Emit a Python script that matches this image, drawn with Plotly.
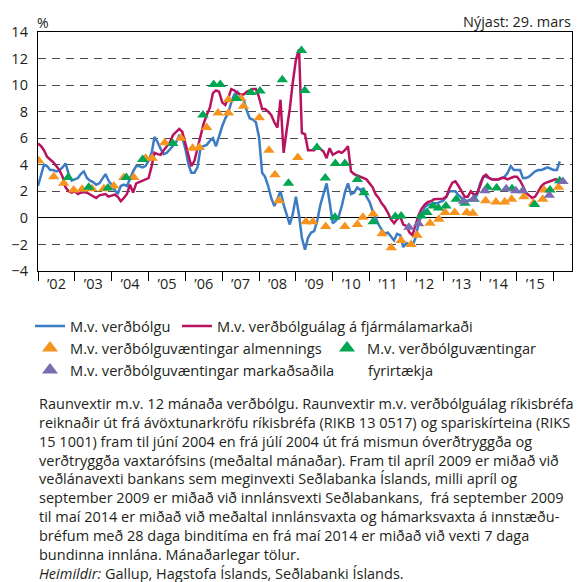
import pandas as pd
import plotly.graph_objects as go

# ---- data -------------------------------------------------------------
START_MONTH = "2002-01-01"

# Real rate based on 12-month inflation (monthly, Jan 2002 - Mar 2016)
real_rate_cpi = [
    2.4, 3.3, 4.0, 3.9, 3.6, 3.6, 3.5, 3.6, 3.8, 4.1, 3.3, 2.8,      # 2002
    2.9, 3.0, 3.3, 3.5, 3.0, 2.8, 2.7, 2.5, 2.6, 2.9, 3.3, 2.8,      # 2003
    2.5, 2.1, 1.8, 2.4, 2.5, 2.4, 3.0, 3.5, 3.9, 3.9, 3.8, 3.9,      # 2004
    4.3, 4.9, 6.1, 5.7, 5.2, 4.8, 4.9, 5.2, 5.5, 5.7, 6.2, 6.1,      # 2005
    5.2, 4.0, 3.4, 3.4, 3.8, 5.3, 5.4, 5.5, 5.8, 6.0, 5.4, 6.2,      # 2006
    6.9, 7.5, 7.9, 8.7, 9.3, 9.5, 9.2, 8.9, 8.1, 7.5, 7.4, 7.2,      # 2007
    6.1, 3.4, 3.1, 2.4, 1.5, 0.9, 1.4, 2.0, 1.0, 0.2, -0.5, 0.3,     # 2008
    1.6, 0.2, -1.5, -2.4, -1.5, -1.1, -1.0, -0.2, 1.0, 1.8, 2.6, 1.2,  # 2009
    -0.4, -0.2, 0.1, 0.9, 1.9, 2.6, 1.8, 1.9, 2.3, 2.1, 2.2, 1.6,    # 2010
    1.2, 0.5, 0.0, -0.5, -0.9, -1.2, -1.1, -1.4, -1.7, -1.2, -1.3, -2.2,  # 2011
    -1.9, -2.0, -2.1, -1.5, -0.4, 0.2, 0.8, 1.0, 1.0, 1.1, 1.1, 1.2,  # 2012
    1.3, 1.6, 2.0, 2.0, 2.0, 1.7, 1.5, 1.3, 1.3, 1.4, 1.5, 1.7,      # 2013
    2.6, 3.1, 3.1, 3.0, 2.9, 2.9, 2.9, 3.0, 3.1, 3.4, 3.9, 3.6,      # 2014
    3.6, 3.6, 3.0, 3.0, 3.1, 3.3, 3.5, 3.6, 3.6, 3.7, 3.8, 3.7,      # 2015
    3.6, 3.6, 4.25,                                                  # 2016
]

# Real rate based on market breakeven inflation (monthly, Jan 2002 - Feb 2016)
real_rate_breakeven = [
    5.6, 5.4, 5.1, 4.6, 4.4, 4.2, 3.9, 3.6, 3.1, 2.3, 2.0, 1.9,      # 2002
    2.0, 1.8, 1.9, 1.95, 1.9, 1.75, 1.6, 1.5, 1.7, 1.75, 1.8, 1.6,   # 2003
    1.65, 1.75, 1.6, 1.25, 1.5, 1.8, 2.5, 1.9, 2.6, 2.7, 2.8, 2.9,   # 2004
    3.0, 3.9, 4.9, 4.8, 4.75, 5.1, 5.4, 5.7, 6.25, 6.5, 6.7, 6.5,    # 2005
    5.6, 4.6, 3.9, 4.3, 5.2, 6.1, 7.1, 7.75, 8.3, 9.4, 9.6, 9.5,     # 2006
    8.7, 8.5, 9.0, 9.7, 9.6, 9.4, 9.3, 9.3, 9.5, 9.6, 9.7, 9.7,      # 2007
    9.1, 8.2, 8.2, 8.0, 7.75, 7.2, 6.8, 8.9, 4.9, 6.6, 8.2, 10.2,    # 2008
    11.9, 12.7, 6.4, 6.3, 5.1, 5.1, 5.1, 5.4, 5.2, 5.0, 4.5, 5.25,   # 2009
    4.75, 4.9, 5.0, 4.9, 5.1, 5.4, 3.5, 3.3, 3.2, 3.1, 3.0, 2.9,     # 2010
    2.6, 2.3, 1.8, 1.5, 1.1, 0.8, 0.4, -0.1, -0.4, -0.1, 0.1, -0.5,  # 2011
    -0.6, -1.1, -1.3, -0.6, 0.2, 0.7, 1.0, 1.2, 1.25, 1.4, 1.4, 1.4, # 2012
    1.45, 1.6, 2.2, 2.65, 2.75, 2.4, 2.0, 1.6, 1.6, 2.0, 1.75, 1.85, # 2013
    2.4, 3.1, 3.25, 3.0, 2.9, 2.9, 2.9, 3.0, 3.0, 2.9, 3.0, 3.1,     # 2014
    3.1, 2.8, 2.4, 1.9, 1.7, 1.5, 1.6, 2.0, 2.4, 2.6, 2.7, 2.8,      # 2015
    2.9, 2.95,                                                       # 2016
]

# Real rate based on households' inflation expectations (survey dates)
public_dates = [
    "2002-01-08", "2002-06-06", "2002-09-13", "2002-12-20", "2003-03-14",
    "2003-06-21", "2003-10-16", "2004-01-23", "2004-05-01", "2004-08-08",
    "2004-12-03", "2005-02-06", "2005-06-10", "2005-11-18", "2006-03-14",
    "2006-05-19", "2006-07-31", "2006-11-21", "2007-03-04", "2007-03-04",
    "2007-07-05", "2007-07-31", "2008-01-04", "2008-04-09", "2008-06-07",
    "2008-07-16", "2009-01-19", "2009-04-09", "2009-06-18", "2009-10-23",
    "2010-05-01", "2010-09-02", "2010-10-27", "2011-02-06", "2011-05-05",
    "2011-08-04", "2011-11-10", "2012-02-17", "2012-04-16", "2012-08-22",
    "2012-11-18", "2013-01-19", "2013-04-24", "2013-08-22", "2013-10-20",
    "2014-02-24", "2014-06-07", "2014-09-02", "2014-11-10", "2015-03-11",
    "2015-06-14", "2015-09-13", "2015-09-27", "2016-02-17",
]
public_values = [
    4.3, 3.1, 2.6, 2.1, 2.15,
    2.2, 2.2, 2.4, 3.05, 3.05,
    4.5, 4.5, 5.65, 6.0, 5.25,
    5.3, 6.8, 7.9, 7.9, 8.9,
    9.0, 8.4, 7.55, 5.1, 3.25,
    1.3, 4.55, -0.3, -0.3, -0.65,
    -0.65, -0.5, 0.05, 0.3, -1.2,
    -2.25, -1.7, -2.0, -1.3, -0.4,
    -0.1, 0.4, 0.4, 0.4, 0.35,
    1.3, 1.2, 1.2, 1.4, 1.6,
    1.1, 1.4, 2.1, 2.3,
]

# Real rate based on firms' inflation expectations
firms_dates = [
    "2002-10-27", "2003-05-19", "2003-11-25", "2004-05-26", "2004-11-03",
    "2005-08-29", "2006-06-24", "2006-10-09", "2006-12-13", "2007-05-22",
    "2007-10-12", "2008-01-11", "2008-08-19", "2008-10-19", "2009-02-25",
    "2009-03-30", "2009-07-28", "2009-10-19", "2010-01-23", "2010-01-27",
    "2010-05-01", "2010-09-02", "2010-11-07", "2011-02-06", "2011-09-13",
    "2011-11-10", "2012-05-27", "2012-07-24", "2012-09-21", "2012-11-14",
    "2013-01-27", "2013-05-09", "2013-08-04", "2013-11-03", "2014-03-15",
    "2014-06-14", "2014-11-14", "2015-06-25", "2015-11-25", "2016-02-28",
]
firms_values = [
    3.05, 2.3, 2.25, 3.05, 4.4,
    5.6, 7.75, 10.05, 10.05, 9.0,
    9.45, 9.55, 10.4, 2.6, 12.6,
    9.6, 5.3, 3.0, 0.05, 4.1,
    4.1, 2.9, 1.9, -0.3, 0.1,
    0.15, 0.15, 0.4, 0.9, 0.75,
    0.9, 1.4, 1.1, 1.4, 2.3,
    2.25, 2.2, 1.0, 2.1, 2.8,
]

# Real rate based on market participants' inflation expectations
market_dates = [
    "2012-01-26", "2012-05-01", "2013-07-19", "2013-10-27", "2014-02-17",
    "2014-09-17", "2014-12-20", "2015-02-28", "2015-11-18", "2016-04-01",
]
market_values = [
    -0.7, -0.45, 1.25, 1.4, 2.05,
    2.2, 2.05, 2.05, 1.7, 2.75,
]

Y_TICKS = [-4, -2, 0, 2, 4, 6, 8, 10, 12, 14]

NOTE_LINES = [
    "Raunvextir m.v. 12 mánaða verðbólgu. Raunvextir m.v. verðbólguálag ríkisbréfa",
    "reiknaðir út frá ávöxtunarkröfu ríkisbréfa (RIKB 13 0517) og spariskírteina (RIKS",
    "15 1001) fram til júní 2004 en frá júlí 2004 út frá mismun óverðtryggða og",
    "verðtryggða vaxtarófsins (meðaltal mánaðar). Fram til apríl 2009 er miðað við",
    "veðlánavexti bankans sem meginvexti Seðlabanka Íslands, milli apríl og",
    "september 2009 er miðað við innlánsvexti Seðlabankans,  frá september 2009",
    "til maí 2014 er miðað við meðaltal innlánsvaxta og hámarksvaxta á innstæðu-",
    "bréfum með 28 daga binditíma en frá maí 2014 er miðað við vexti 7 daga",
    "bundinna innlána. Mánaðarlegar tölur.",
]
SOURCE_LINE = "<i>Heimildir:</i> Gallup, Hagstofa Íslands, Seðlabanki Íslands."

# ---- styling ----------------------------------------------------------
FONT = "Open Sans"
TEXT = "#231f20"
BLUE = "#3b7cc4"
RED = "#b9135f"
ORANGE = "#f7941d"
GREEN = "#00a651"
PURPLE = "#7b6cb1"

W, H = 581, 582
M_L, M_R, M_T, M_B = 38, 9, 32, 311
PW, PH = W - M_L - M_R, H - M_T - M_B
LEG_FONT = 14.6
NOTE_FONT = 14.5


def px_x(px):
    return (px - M_L) / PW


def px_y(py):
    return (H - M_B - py) / PH


months_cpi = pd.date_range(START_MONTH, periods=len(real_rate_cpi), freq="MS")
months_be = pd.date_range(START_MONTH, periods=len(real_rate_breakeven), freq="MS")

fig = go.Figure()

fig.add_trace(go.Scatter(
    x=months_cpi, y=real_rate_cpi, mode="lines", name="M.v. verðbólgu",
    line=dict(color=BLUE, width=2.5), legend="legend",
))
fig.add_trace(go.Scatter(
    x=months_be, y=real_rate_breakeven, mode="lines",
    name="M.v. verðbólguálag á fjármálamarkaði",
    line=dict(color=RED, width=2.5), legend="legend2",
))

marker_sets = [
    (public_dates, public_values, ORANGE, "M.v. verðbólguvæntingar almennings", "legend3"),
    (firms_dates, firms_values, GREEN, "M.v. verðbólguvæntingar", "legend4"),
    (market_dates, market_values, PURPLE, "M.v. verðbólguvæntingar markaðsaðila", "legend5"),
]
for dates, vals, col, label, leg in marker_sets:
    fig.add_trace(go.Scatter(
        x=dates, y=vals, mode="markers", showlegend=False,
        marker=dict(symbol="triangle-up", size=10, color=col, line=dict(width=0)),
    ))
    # larger symbol for the legend key
    fig.add_trace(go.Scatter(
        x=[None], y=[None], mode="markers", name=label, legend=leg,
        marker=dict(symbol="triangle-up", size=14, color=col, line=dict(width=0)),
    ))


def legend_box(left_px, mid_px):
    return dict(
        orientation="h", x=px_x(left_px), xanchor="left",
        y=px_y(mid_px), yanchor="middle",
        font=dict(family=FONT, size=LEG_FONT, color=TEXT),
        bgcolor="rgba(0,0,0,0)", borderwidth=0,
    )


ROW1, ROW2, ROW3 = 326, 348, 370

fig.update_layout(
    width=W, height=H,
    margin=dict(l=M_L, r=M_R, t=M_T, b=M_B, pad=0),
    paper_bgcolor="white", plot_bgcolor="white",
    font=dict(family=FONT, size=14, color=TEXT),
    showlegend=True,
    legend=legend_box(30, ROW1),
    legend2=legend_box(177, ROW1),
    legend3=legend_box(30, ROW2),
    legend4=legend_box(327, ROW2),
    legend5=legend_box(30, ROW3),
)

fig.update_xaxes(
    type="date", range=["2002-01-01", "2016-06-30"],
    showgrid=False, zeroline=False,
    showline=True, linecolor="black", linewidth=1.3, mirror=True,
    ticks="outside", ticklen=9, tickwidth=1.3, tickcolor="black",
    tick0="2002-01-01", dtick="M12", ticklabelmode="period",
    tickformat="’%y", tickfont=dict(family=FONT, size=14.5, color=TEXT),
    ticklabelstandoff=-10,
)
fig.update_yaxes(
    range=[-4, 14], tickvals=Y_TICKS, ticks="",
    showgrid=True, gridcolor="#4a4a4a", gridwidth=1.2, griddash="8px,6px",
    zeroline=True, zerolinecolor="black", zerolinewidth=1.3,
    showline=True, linecolor="black", linewidth=1.3, mirror=True,
    tickfont=dict(family=FONT, size=14.5, color=TEXT), ticklabelstandoff=6,
)

annos = [
    dict(text="%", x=px_x(36), y=px_y(22.5), xanchor="left", yanchor="middle",
         font=dict(size=14)),
    dict(text="Nýjast: 29. mars", x=px_x(572), y=px_y(21.7), xanchor="right",
         yanchor="middle", font=dict(size=14.5)),
    dict(text="fyrirtækja", x=px_x(367), y=px_y(ROW3), xanchor="left",
         yanchor="middle", font=dict(size=LEG_FONT)),
    dict(text="<br>".join(NOTE_LINES), x=px_x(38), y=px_y(392.5),
         xanchor="left", yanchor="top", align="left",
         font=dict(size=NOTE_FONT)),
    dict(text=SOURCE_LINE, x=px_x(38), y=px_y(573), xanchor="left",
         yanchor="middle", align="left", font=dict(size=NOTE_FONT)),
]

for a in annos:
    fig.add_annotation(xref="paper", yref="paper", showarrow=False,
                       borderpad=0, **a)

fig.write_html("out.html")
